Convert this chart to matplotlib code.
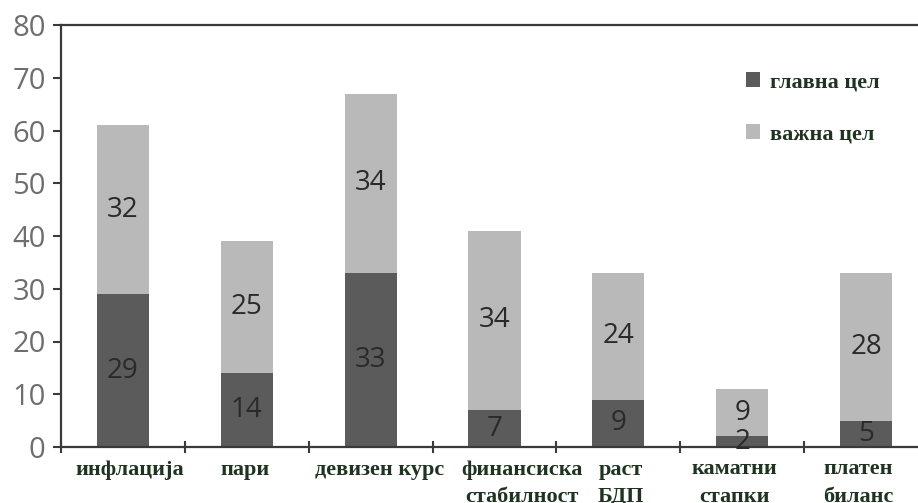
import numpy as np
import matplotlib.pyplot as plt
from matplotlib.patches import Patch

# Data
categories = ['инфлација', 'пари', 'девизен курс', 'финансиска\nстабилност',
              'раст\nБДП', 'каматни\nстапки', 'платен\nбиланс']
main_goal = [29, 14, 33, 7, 9, 2, 5]          # главна цел
important_goal = [32, 25, 34, 34, 24, 9, 28]  # важна цел
legend_labels = ['главна цел', 'важна цел']
yticks = [0, 10, 20, 30, 40, 50, 60, 70, 80]

# Style
dark = '#5b5b5b'
light = '#b9b9b9'
text_green = '#1f3321'
axis_col = '#3a3a3a'
# horizontal nudges (px) for the category names, as laid out in the original
label_nudge = [7, -2, 9, 27, 3, -8, -8]

fig = plt.figure(figsize=(9.18, 5.03), dpi=100)
ax = fig.add_axes([61/918, 1-447/503, (928-61)/918, (447-25)/503])

x = np.arange(len(categories))
main = np.array(main_goal)
imp = np.array(important_goal)
w = 0.42

ax.bar(x, main, width=w, color=dark, zorder=2)
ax.bar(x, imp, width=w, bottom=main, color=light, zorder=2)

# Value labels
for xi, m, v in zip(x, main, imp):
    ax.text(xi, m/2, str(m), ha='center', va='center', fontsize=20,
            color='#2a2a2a', family='Open Sans', zorder=3)
    ax.text(xi, m + v/2, str(v), ha='center', va='center', fontsize=20,
            color='#2a2a2a', family='Open Sans', zorder=3)

ax.set_xlim(-0.5, len(categories)-0.5)
ax.set_ylim(0, 80)
ax.set_yticks(yticks)
ax.set_yticklabels([str(t) for t in yticks], fontsize=21, color='#6e6e6e',
                   family='Open Sans')
ax.tick_params(axis='y', direction='out', length=6, width=1.5, color=axis_col, pad=5)

# category names under the bars
ax.set_xticks([])
for xi, name, dx in zip(x, categories, label_nudge):
    ax.annotate(name, xy=(xi, 0), xycoords=('data', 'axes fraction'),
                xytext=(dx*0.72, -9), textcoords='offset points',
                ha='center', va='top', fontsize=16, fontweight='bold',
                color=text_green, family='Liberation Serif',
                linespacing=1.5, annotation_clip=False)

ax.set_xticks(np.arange(len(categories)+1) - 0.5, minor=True)
ax.tick_params(axis='x', which='minor', direction='inout', length=9, width=1.5,
               color=axis_col)

for side in ['left', 'bottom', 'top']:
    ax.spines[side].set_color(axis_col)
    ax.spines[side].set_linewidth(1.6)
ax.spines['right'].set_visible(False)

handles = [Patch(facecolor=dark), Patch(facecolor=light)]
leg = fig.legend(handles, legend_labels, loc='upper left',
                 bbox_to_anchor=(737/918, 1-63/503), frameon=False,
                 handlelength=0.65, handleheight=0.7, handletextpad=0.45,
                 labelspacing=1.4, borderaxespad=0,
                 prop={'family': 'Liberation Serif', 'weight': 'bold', 'size': 16})
for t in leg.get_texts():
    t.set_color(text_green)

fig.savefig('out.png', dpi=100)
